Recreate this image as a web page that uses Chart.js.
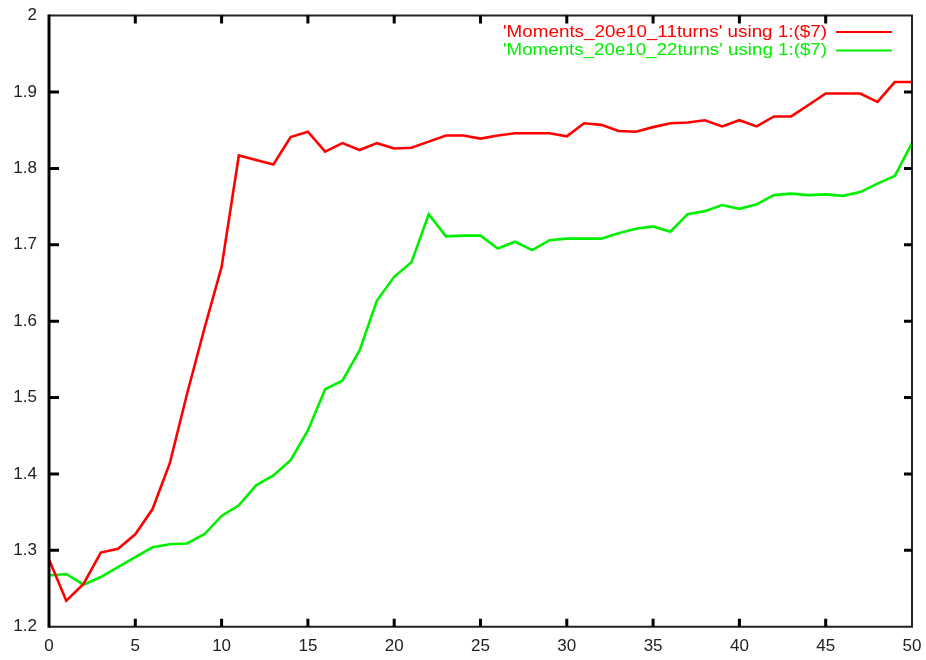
<!DOCTYPE html>
<html>
<head>
<meta charset="utf-8">
<script src="https://cdn.jsdelivr.net/npm/chart.js@4/dist/chart.umd.min.js"></script>
<style>
  html, body { margin: 0; padding: 0; background: #fff; }
  #wrap { width: 926px; height: 660px; }
</style>
</head>
<body>
<div id="wrap"><canvas id="c" width="926" height="660"></canvas></div>
<script>
// Turn index (column 1)
const turns = [0,1,2,3,4,5,6,7,8,9,10,11,12,13,14,15,16,17,18,19,20,21,22,23,24,25,26,27,28,29,30,31,32,33,34,35,36,37,38,39,40,41,42,43,44,45,46,47,48,49,50];

// Column 7 of Moments_20e10_11turns
const moments11 = [1.288,1.234,1.256,1.297,1.302,1.321,1.354,1.414,1.505,1.590,1.671,1.817,1.811,1.805,1.841,1.848,1.822,1.833,1.824,1.833,1.826,1.827,1.835,1.843,1.843,1.839,1.843,1.846,1.846,1.846,1.842,1.859,1.857,1.849,1.848,1.854,1.859,1.860,1.863,1.855,1.863,1.855,1.868,1.868,1.883,1.898,1.898,1.898,1.887,1.913,1.913];

// Column 7 of Moments_20e10_22turns
const moments22 = [1.267,1.269,1.255,1.265,1.278,1.291,1.304,1.308,1.309,1.321,1.345,1.359,1.385,1.398,1.418,1.457,1.511,1.522,1.562,1.627,1.658,1.677,1.740,1.711,1.712,1.712,1.695,1.704,1.693,1.706,1.708,1.708,1.708,1.715,1.721,1.724,1.717,1.740,1.744,1.752,1.747,1.753,1.765,1.767,1.765,1.766,1.764,1.769,1.780,1.790,1.833];

const seriesLabels = ["'Moments_20e10_11turns' using 1:($7)", "'Moments_20e10_22turns' using 1:($7)"];
const seriesColors = ['#ff0000', '#00f000'];

const xTicks = [0,5,10,15,20,25,30,35,40,45,50];
const xTickLabels = ['0','5','10','15','20','25','30','35','40','45','50'];
const yTicks = [1.2,1.3,1.4,1.5,1.6,1.7,1.8,1.9,2.0];
const yTickLabels = ['1.2','1.3','1.4','1.5','1.6','1.7','1.8','1.9','2'];

const FONT = '"Liberation Sans", Arial, Helvetica, sans-serif';

// Frame, inward tick marks, tick labels and key, drawn gnuplot-style
const framePlugin = {
  id: 'frame',
  afterDraw(chart) {
    const ctx = chart.ctx;
    const a = chart.chartArea;
    const xs = chart.scales.x, ys = chart.scales.y;
    ctx.save();
    ctx.lineCap = 'butt';
    // border
    ctx.strokeStyle = '#222';
    ctx.lineWidth = 2;
    ctx.beginPath();
    ctx.moveTo(a.left, a.top); ctx.lineTo(a.right, a.top);
    ctx.moveTo(a.right, a.top - 1); ctx.lineTo(a.right, a.bottom + 1);
    ctx.moveTo(a.left, a.bottom); ctx.lineTo(a.right, a.bottom);
    ctx.stroke();
    ctx.strokeStyle = '#000';
    ctx.lineWidth = 3;
    ctx.beginPath();
    ctx.moveTo(a.left, a.top - 1); ctx.lineTo(a.left, a.bottom + 1);
    ctx.stroke();
    // ticks
    ctx.lineWidth = 3;
    ctx.strokeStyle = '#000';
    ctx.beginPath();
    xTicks.forEach((v, i) => {
      if (i === 0 || i === xTicks.length - 1) return;
      const px = xs.getPixelForValue(v);
      ctx.moveTo(px, a.bottom); ctx.lineTo(px, a.bottom - 8);
      ctx.moveTo(px, a.top); ctx.lineTo(px, a.top + 8);
    });
    yTicks.forEach((v, i) => {
      if (i === 0 || i === yTicks.length - 1) return;
      const py = ys.getPixelForValue(v);
      ctx.moveTo(a.left, py); ctx.lineTo(a.left + 10, py);
      ctx.moveTo(a.right, py); ctx.lineTo(a.right - 8, py);
    });
    ctx.stroke();
    // tick labels
    ctx.fillStyle = '#222';
    ctx.font = '17px ' + FONT;
    ctx.textBaseline = 'middle';
    ctx.textAlign = 'center';
    xTicks.forEach((v, i) => {
      ctx.fillText(xTickLabels[i], xs.getPixelForValue(v), a.bottom + 19.5);
    });
    ctx.textAlign = 'right';
    yTicks.forEach((v, i) => {
      ctx.fillText(yTickLabels[i], a.left - 12, ys.getPixelForValue(v));
    });
    // key
    ctx.font = '17px ' + FONT;
    const keyTextLeft = 503, keyTextRight = 827, keyLineX0 = 836, keyLineX1 = 892;
    const keyRows = [32, 50.5];
    seriesLabels.forEach((t, i) => {
      const w = ctx.measureText(t).width;
      const sx = (keyTextRight - keyTextLeft) / w;
      ctx.save();
      ctx.translate(keyTextRight, keyRows[i]);
      ctx.scale(sx, 1);
      ctx.textAlign = 'right';
      ctx.fillStyle = seriesColors[i];
      ctx.fillText(t, 0, 0);
      ctx.restore();
      ctx.strokeStyle = seriesColors[i];
      ctx.lineWidth = 2;
      ctx.beginPath();
      ctx.moveTo(keyLineX0, keyRows[i]); ctx.lineTo(keyLineX1, keyRows[i]);
      ctx.stroke();
    });
    ctx.restore();
  }
};

const toPoints = arr => turns.map((t, i) => ({ x: t, y: arr[i] }));

new Chart(document.getElementById('c'), {
  type: 'line',
  data: {
    datasets: [
      { label: seriesLabels[0], data: toPoints(moments11), borderColor: seriesColors[0], borderWidth: 2.6, pointRadius: 0, tension: 0, fill: false },
      { label: seriesLabels[1], data: toPoints(moments22), borderColor: seriesColors[1], borderWidth: 2.6, pointRadius: 0, tension: 0, fill: false }
    ]
  },
  options: {
    responsive: false,
    animation: false,
    devicePixelRatio: 1,
    layout: { padding: { left: 0, right: 14, top: 15.6, bottom: 0 } },
    plugins: { legend: { display: false }, tooltip: { enabled: false } },
    scales: {
      x: {
        type: 'linear', min: 0, max: 50,
        afterBuildTicks: s => { s.ticks = xTicks.map(v => ({ value: v })); },
        afterFit: s => { s.height = 33.3; },
        grid: { display: false, drawTicks: false },
        border: { display: false },
        ticks: { display: false }
      },
      y: {
        type: 'linear', min: 1.2, max: 2.0,
        afterBuildTicks: s => { s.ticks = yTicks.map(v => ({ value: v })); },
        afterFit: s => { s.width = 49; },
        grid: { display: false, drawTicks: false },
        border: { display: false },
        ticks: { display: false }
      }
    }
  },
  plugins: [framePlugin]
});
</script>
</body>
</html>
